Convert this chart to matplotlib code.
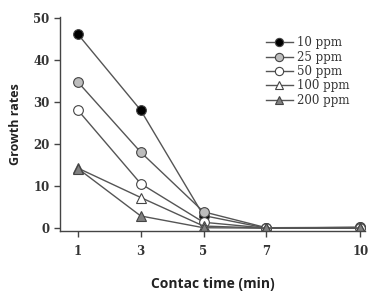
import matplotlib
matplotlib.use('Agg')
import matplotlib.pyplot as plt

# data
times = [1, 3, 5, 7, 10]
labels = ['10 ppm', '25 ppm', '50 ppm', '100 ppm', '200 ppm']
rate_10 = [46.2, 28.1, 3.0, 0.0, 0.2]
rate_25 = [34.8, 18.1, 3.9, 0.1, 0.2]
rate_50 = [28.1, 10.6, 1.4, 0.0, 0.0]
rate_100 = [14.3, 7.3, 0.5, 0.0, 0.0]
rate_200 = [14.2, 2.9, 0.1, 0.0, 0.0]

series = [rate_10, rate_25, rate_50, rate_100, rate_200]
markers = ['o', 'o', 'o', '^', '^']
faces = ['black', '#bdbdbd', 'white', 'white', '#808080']

fig = plt.figure(figsize=(3.73, 2.94), dpi=100)
ax = fig.add_axes([0.161, 0.214, 0.818, 0.728])

for vals, lab, m, fc in zip(series, labels, markers, faces):
    ax.plot(times, vals, color='#555555', linewidth=1.0, marker=m,
            markersize=7, markerfacecolor=fc, markeredgecolor='#444444',
            markeredgewidth=0.8, label=lab)

ax.set_xlim(0.43, 10.15)
ax.set_ylim(-0.7, 50.3)
ax.set_xticks(times)
ax.set_yticks([0, 10, 20, 30, 40, 50])
ax.spines['top'].set_visible(False)
ax.spines['right'].set_visible(False)
for s in ['left', 'bottom']:
    ax.spines[s].set_color('#444444')
    ax.spines[s].set_linewidth(1.0)
ax.tick_params(direction='out', length=4, width=1.0, color='#444444')
for t in ax.get_xticklabels() + ax.get_yticklabels():
    t.set_fontfamily('DejaVu Serif')
    t.set_fontweight('bold')
    t.set_fontsize(8.5)
    t.set_color('#333333')
ax.tick_params(axis='x', pad=6)

ax.set_ylabel('Growth rates', fontfamily='Open Sans', fontweight='bold',
              fontsize=9, color='#222222', labelpad=8)
ax.set_xlabel('Contac time (min)', fontfamily='Open Sans', fontweight='bold',
              fontsize=10, color='#222222', labelpad=14)

leg = ax.legend(loc='upper right', bbox_to_anchor=(0.985, 0.96), frameon=False,
                prop={'family': 'DejaVu Serif', 'size': 8.5}, handlelength=2.3,
                labelspacing=0.12, handletextpad=0.4, markerscale=0.85)
for t in leg.get_texts():
    t.set_color('#333333')

fig.savefig('out.png', dpi=100)
